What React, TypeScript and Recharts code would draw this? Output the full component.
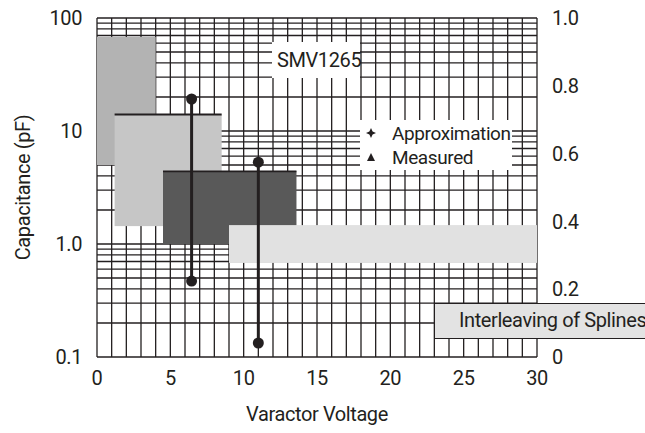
import React from "react";
import {
  ComposedChart,
  Legend,
  Line,
  ReferenceArea,
  ReferenceLine,
  XAxis,
  YAxis,
} from "recharts";

const FONT = "Roboto, 'Liberation Sans', sans-serif";
const INK = "#231f20";

// axes
const voltTicks = [0, 5, 10, 15, 20, 25, 30];
const capTicks = [0.1, 1, 10, 100];
const capTickLabels = ["0.1", "1.0", "10", "100"];
const fracTicks = [0, 0.2, 0.4, 0.6, 0.8, 1.0];
const fracTickLabels = ["0", "0.2", "0.4", "0.6", "0.8", "1.0"];

// grid (log paper)
const voltGrid = [
  0, 1, 2, 3, 4, 5, 6, 7, 8, 9, 10, 11, 12, 13, 14, 15, 16, 17, 18, 19, 20, 21,
  22, 23, 24, 25, 26, 27, 28, 29, 30,
];
const capGrid = [
  0.1, 0.2, 0.3, 0.4, 0.5, 0.6, 0.7, 0.8, 0.9, 1, 2, 3, 4, 5, 6, 7, 8, 9, 10,
  20, 30, 40, 50, 60, 70, 80, 90, 100,
];

// shaded regions (voltage span, capacitance span)
const regionFrom = [0, 1.2, 4.5, 9.0];
const regionTo = [4.0, 8.5, 13.6, 30];
const regionTop = [68, 14, 4.4, 1.47];
const regionBottom = [5.0, 1.44, 1.0, 0.68];
const regionFill = ["#b3b3b3", "#c6c6c6", "#595959", "#e1e1e1"];
const regionEdge = [false, true, true, false];

// capacitance sweeps
const sweepVoltage = [6.45, 11.0];
const sweepHigh = [19.2, 5.3];
const sweepLow = [0.47, 0.133];

const legendItems = ["Approximation", "Measured"];

const textStyle = { fill: INK, fontSize: 20, fontFamily: FONT, letterSpacing: -0.4 };

function RegionShape(props: any) {
  const { x, y, width, height, fill, edge } = props;
  return (
    <g>
      <rect x={x} y={y} width={width} height={height} fill={fill} />
      {edge && (
        <line x1={x} x2={x + width} y1={y} y2={y} stroke={INK} strokeWidth={1.8} />
      )}
    </g>
  );
}

function LegendBox() {
  return (
    <div
      style={{
        background: "#fff",
        width: 152,
        height: 50,
        fontFamily: FONT,
        fontSize: 19,
        letterSpacing: -0.4,
        color: INK,
        boxSizing: "border-box",
        paddingTop: 1,
      }}
    >
      {legendItems.map((name, i) => (
        <div key={name} style={{ display: "flex", alignItems: "center", height: 24 }}>
          <svg width={32} height={20} style={{ flex: "none" }}>
            {i === 0 ? (
              <path d="M11,5 L12.6,8.4 L16,10 L12.6,11.6 L11,15 L9.4,11.6 L6,10 L9.4,8.4 Z" fill={INK} />
            ) : (
              <path d="M11,6 L15,14 L7,14 Z" fill={INK} />
            )}
          </svg>
          <span>{name}</span>
        </div>
      ))}
    </div>
  );
}

export default function App() {
  return (
    <div style={{ position: "absolute", left: 0, top: 0, width: 645, height: 433, background: "#fff" }}>
      <ComposedChart width={645} height={433} margin={{ top: 18, right: 0, bottom: 0, left: 0 }}>
        <XAxis
          type="number"
          dataKey="v"
          domain={[0, 30]}
          ticks={voltTicks}
          allowDataOverflow
          height={76}
          axisLine={false}
          tickLine={false}
          tickSize={0}
          tickMargin={14}
          tick={textStyle}
          label={{
            value: "Varactor Voltage",
            position: "insideBottom",
            offset: 12,
            style: textStyle,
          }}
        />
        <YAxis
          yAxisId="cap"
          scale="log"
          domain={[0.1, 100]}
          ticks={capTicks}
          allowDataOverflow
          width={97}
          axisLine={false}
          tickLine={false}
          tickSize={0}
          tickMargin={15}
          tick={textStyle}
          tickFormatter={(v: number) => capTickLabels[capTicks.indexOf(v)] ?? String(v)}
          label={{
            value: "Capacitance (pF)",
            angle: -90,
            position: "insideLeft",
            offset: 23,
            style: { ...textStyle, textAnchor: "middle" },
          }}
        />
        <YAxis
          yAxisId="frac"
          orientation="right"
          domain={[0, 1]}
          ticks={fracTicks}
          allowDataOverflow
          width={108}
          axisLine={false}
          tickLine={false}
          tickSize={0}
          tickMargin={15}
          tick={textStyle}
          tickFormatter={(v: number) => fracTickLabels[fracTicks.indexOf(v)] ?? String(v)}
        />
        <ReferenceLine yAxisId="frac" y={0} stroke="none" ifOverflow="extendDomain" />
        <ReferenceLine yAxisId="frac" y={1} stroke="none" ifOverflow="extendDomain" />
        {capGrid.map((c) => (
          <ReferenceLine
            key={"h" + c}
            yAxisId="cap"
            y={c}
            stroke={INK}
            strokeWidth={1.3}
            ifOverflow="extendDomain"
            zIndex={-50}
          />
        ))}
        {voltGrid.map((v) => (
          <ReferenceLine
            key={"v" + v}
            yAxisId="cap"
            x={v}
            stroke={INK}
            strokeWidth={1.3}
            ifOverflow="extendDomain"
            zIndex={-50}
          />
        ))}
        {regionFrom.map((x1, i) => (
          <ReferenceArea
            key={i}
            yAxisId="cap"
            x1={x1}
            x2={regionTo[i]}
            y1={regionBottom[i]}
            y2={regionTop[i]}
            ifOverflow="hidden"
            zIndex={-20}
            shape={(p: any) => <RegionShape {...p} fill={regionFill[i]} edge={regionEdge[i]} />}
          />
        ))}
        {sweepVoltage.map((v, i) => (
          <Line
            key={i}
            yAxisId="cap"
            data={[
              { v, c: sweepHigh[i] },
              { v, c: sweepLow[i] },
            ]}
            dataKey="c"
            stroke={INK}
            strokeWidth={3}
            dot={{ r: 5.5, fill: INK, stroke: INK, strokeWidth: 0 }}
            activeDot={false}
            isAnimationActive={false}
          />
        ))}
        <Legend
          layout="horizontal"
          verticalAlign="middle"
          align="center"
          content={() => <LegendBox />}
          wrapperStyle={{ position: "absolute", left: 360, top: 120, width: 152, height: 50 }}
        />
      </ComposedChart>
      <div
        style={{
          position: "absolute",
          left: 272,
          top: 42,
          width: 88,
          height: 36,
          background: "#fff",
          fontFamily: FONT,
          fontSize: 20,
          letterSpacing: -0.4,
          color: INK,
          lineHeight: "36px",
          paddingLeft: 5,
          boxSizing: "border-box",
        }}
      >
        SMV1265
      </div>
      <div
        style={{
          position: "absolute",
          left: 434,
          top: 303,
          width: 211,
          height: 36,
          background: "#e3e3e3",
          borderTop: `1.5px solid ${INK}`,
          borderLeft: `1.5px solid ${INK}`,
          borderBottom: `1.5px solid ${INK}`,
          fontFamily: FONT,
          fontSize: 20,
          letterSpacing: -0.4,
          color: INK,
          lineHeight: "33px",
          paddingLeft: 24,
          boxSizing: "border-box",
          whiteSpace: "nowrap",
          overflow: "hidden",
        }}
      >
        Interleaving of Splines
      </div>
    </div>
  );
}
